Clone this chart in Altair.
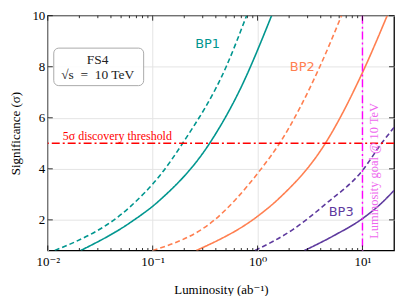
import altair as alt
import pandas as pd

# ---- data ----
bp1_solid_L = [0.0206, 0.0604, 0.1167, 0.349, 0.675, 1.36]
bp1_solid_S = [0.8, 1.88, 2.77, 5.0, 7.08, 10.0]
bp1_dash_L = [0.01166, 0.0604, 0.1167, 0.193, 0.507, 0.785]
bp1_dash_S = [0.8, 2.5, 3.73, 5.0, 8.04, 10.0]

bp2_solid_L = [0.261, 1.045, 1.62, 4.35, 10.0, 17.2]
bp2_solid_S = [0.8, 2.2, 2.86, 4.95, 7.77, 10.0]
bp2_dash_L = [0.1, 0.389, 1.045, 1.62, 3.95, 6.31]
bp2_dash_S = [0.8, 2.0, 3.92, 5.0, 8.03, 10.0]

bp3_solid_L = [2.8, 5.21, 10.0, 14.5, 20.0]
bp3_solid_S = [0.8, 1.36, 2.05, 2.58, 3.15]
bp3_dash_L = [0.946, 2.17, 4.51, 10.07, 15.2, 20.0]
bp3_dash_S = [0.8, 1.62, 2.64, 3.95, 5.0, 5.62]

series_names = ["BP1", "BP2", "BP3"]
series_colors = ["#00968F", "#FF7F50", "#5E3A9E"]
label_colors = ["#2E7D4F", "#F5A035", "#6A3D9A"]
label_L = [0.334, 2.67, 6.27]
label_S = [8.88, 8.0, 2.3]

x_major = [0.01, 0.1, 1, 10]
x_minor = [0.02, 0.03, 0.04, 0.05, 0.06, 0.07, 0.08, 0.09,
           0.2, 0.3, 0.4, 0.5, 0.6, 0.7, 0.8, 0.9,
           2, 3, 4, 5, 6, 7, 8, 9]
y_major = [2, 4, 6, 8, 10]

threshold = 5
lumi_goal = 10

W, H = 348, 236
FONT = "Liberation Serif, DejaVu Serif, serif"

rows = []
for bp, kind, Ls, Ss in [
    ("BP1", "solid", bp1_solid_L, bp1_solid_S),
    ("BP1", "dashed", bp1_dash_L, bp1_dash_S),
    ("BP2", "solid", bp2_solid_L, bp2_solid_S),
    ("BP2", "dashed", bp2_dash_L, bp2_dash_S),
    ("BP3", "solid", bp3_solid_L, bp3_solid_S),
    ("BP3", "dashed", bp3_dash_L, bp3_dash_S),
]:
    for l, s in zip(Ls, Ss):
        rows.append({"bp": bp, "kind": kind, "L": l, "S": s, "curve": bp + kind})
df = pd.DataFrame(rows)

xs = alt.Scale(type="log", domain=[0.01, 20], nice=False)
ys = alt.Scale(domain=[0.8, 10], nice=False, zero=False)

x_axis = alt.Axis(
    values=x_major,
    labelExpr="datum.value < 0.05 ? '10⁻²' : datum.value < 0.5 ? '10⁻¹' : datum.value < 5 ? '10⁰' : '10¹'",
    grid=True, gridColor="#e4e4e4", gridWidth=1, ticks=False, domain=False,
    labelFont=FONT, labelFontSize=13, labelColor="black", labelPadding=5,
    labelFlush=False,
    title="Luminosity (ab⁻¹)", titleFont=FONT, titleFontSize=13,
    titleFontWeight="normal", titleColor="black",
    titleX=W / 2, titleY=39, titleBaseline="middle", titleAlign="center",
)
y_axis = alt.Axis(
    values=y_major, grid=True, gridColor="#e4e4e4", gridWidth=1,
    ticks=False, domain=False,
    labelFont=FONT, labelFontSize=13, labelColor="black", labelPadding=3,
    labelFlush=False,
    title="Significance (σ)", titleFont=FONT, titleFontSize=13,
    titleFontWeight="normal", titleColor="black",
    titleX=-32, titleY=H / 2, titleAngle=270, titleBaseline="middle",
    titleAlign="center",
)


def X(f="L"):
    return alt.X(f"{f}:Q", scale=xs, axis=x_axis)


def Y(f="S"):
    return alt.Y(f"{f}:Q", scale=ys, axis=y_axis)


lines = alt.Chart(df).mark_line(strokeWidth=1.6, clip=True, interpolate="monotone").encode(
    x=X(), y=Y(),
    color=alt.Color("bp:N", scale=alt.Scale(domain=series_names, range=series_colors), legend=None),
    strokeDash=alt.StrokeDash("kind:N", scale=alt.Scale(domain=["solid", "dashed"], range=[[1, 0], [5, 3]]), legend=None),
    detail="curve:N",
)

thr = alt.Chart(pd.DataFrame({"S": [threshold]})).mark_rule(
    color="red", strokeDash=[8, 3, 2, 3], strokeWidth=1.4).encode(y=Y())
goal = alt.Chart(pd.DataFrame({"L": [lumi_goal]})).mark_rule(
    color="#FF00FF", strokeDash=[8, 3, 2, 3], strokeWidth=1.4).encode(x=X())

thr_text = alt.Chart(pd.DataFrame({"L": [0.0139], "S": [5.3], "t": ["5σ discovery threshold"]})).mark_text(
    align="left", baseline="middle", font=FONT, fontSize=12, color="red").encode(x=X(), y=Y(), text="t:N")
goal_text = alt.Chart(pd.DataFrame({"L": [13.0], "S": [3.92], "t": ["Luminosity goal @ 10 TeV"]})).mark_text(
    align="center", baseline="middle", font=FONT, fontSize=12.5, color="#EE66EE", angle=270).encode(
    x=X(), y=Y(), text="t:N")

labels_df = pd.DataFrame({"L": label_L, "S": label_S, "t": series_names})
bp_labels = alt.Chart(labels_df).mark_text(
    align="center", baseline="middle", font="DejaVu Sans", fontSize=13).encode(
    x=X(), y=Y(), text="t:N",
    color=alt.Color("t:N", scale=alt.Scale(domain=series_names, range=label_colors), legend=None))

box = alt.Chart(pd.DataFrame({"x1": [0.0114], "x2": [0.082], "y1": [7.26], "y2": [8.73]})).mark_rect(
    fill="white", fillOpacity=0.85, stroke="#aaaaaa", strokeWidth=1, cornerRadius=5).encode(
    x=X("x1"), x2="x2", y=Y("y1"), y2="y2")
box_text = alt.Chart(pd.DataFrame({"L": [0.0299, 0.0299], "S": [8.27, 7.69],
                                   "t": ["FS4", "√s\u2002=\u200210 TeV"]})).mark_text(
    align="center", baseline="middle", font=FONT, fontSize=13.5, color="#222222").encode(
    x=X(), y=Y(), text="t:N")

tick_style = dict(color="black", strokeWidth=0.8)
xmaj = pd.DataFrame({"L": x_major})
xmin = pd.DataFrame({"L": x_minor})
ymaj = pd.DataFrame({"S": y_major})
ticks = [
    alt.Chart(xmaj).mark_rule(**tick_style).encode(x=X(), y=alt.value(H), y2=alt.value(H - 5)),
    alt.Chart(xmaj).mark_rule(**tick_style).encode(x=X(), y=alt.value(0), y2=alt.value(5)),
    alt.Chart(xmin).mark_rule(**tick_style).encode(x=X(), y=alt.value(H), y2=alt.value(H - 2.5)),
    alt.Chart(xmin).mark_rule(**tick_style).encode(x=X(), y=alt.value(0), y2=alt.value(2.5)),
    alt.Chart(ymaj).mark_rule(**tick_style).encode(y=Y(), x=alt.value(0), x2=alt.value(5)),
    alt.Chart(ymaj).mark_rule(**tick_style).encode(y=Y(), x=alt.value(W), x2=alt.value(W - 5)),
]

chart = alt.layer(
    lines, thr, goal, box, box_text, thr_text, goal_text, bp_labels, *ticks
).properties(
    width=W, height=H,
    padding={"left": 40, "top": 7, "right": 5, "bottom": 45},
    autosize=alt.AutoSizeParams(type="none"),
).configure_view(stroke="black", strokeWidth=1.3)

chart.save("out.html", embed_options={"renderer": "svg", "actions": False})
